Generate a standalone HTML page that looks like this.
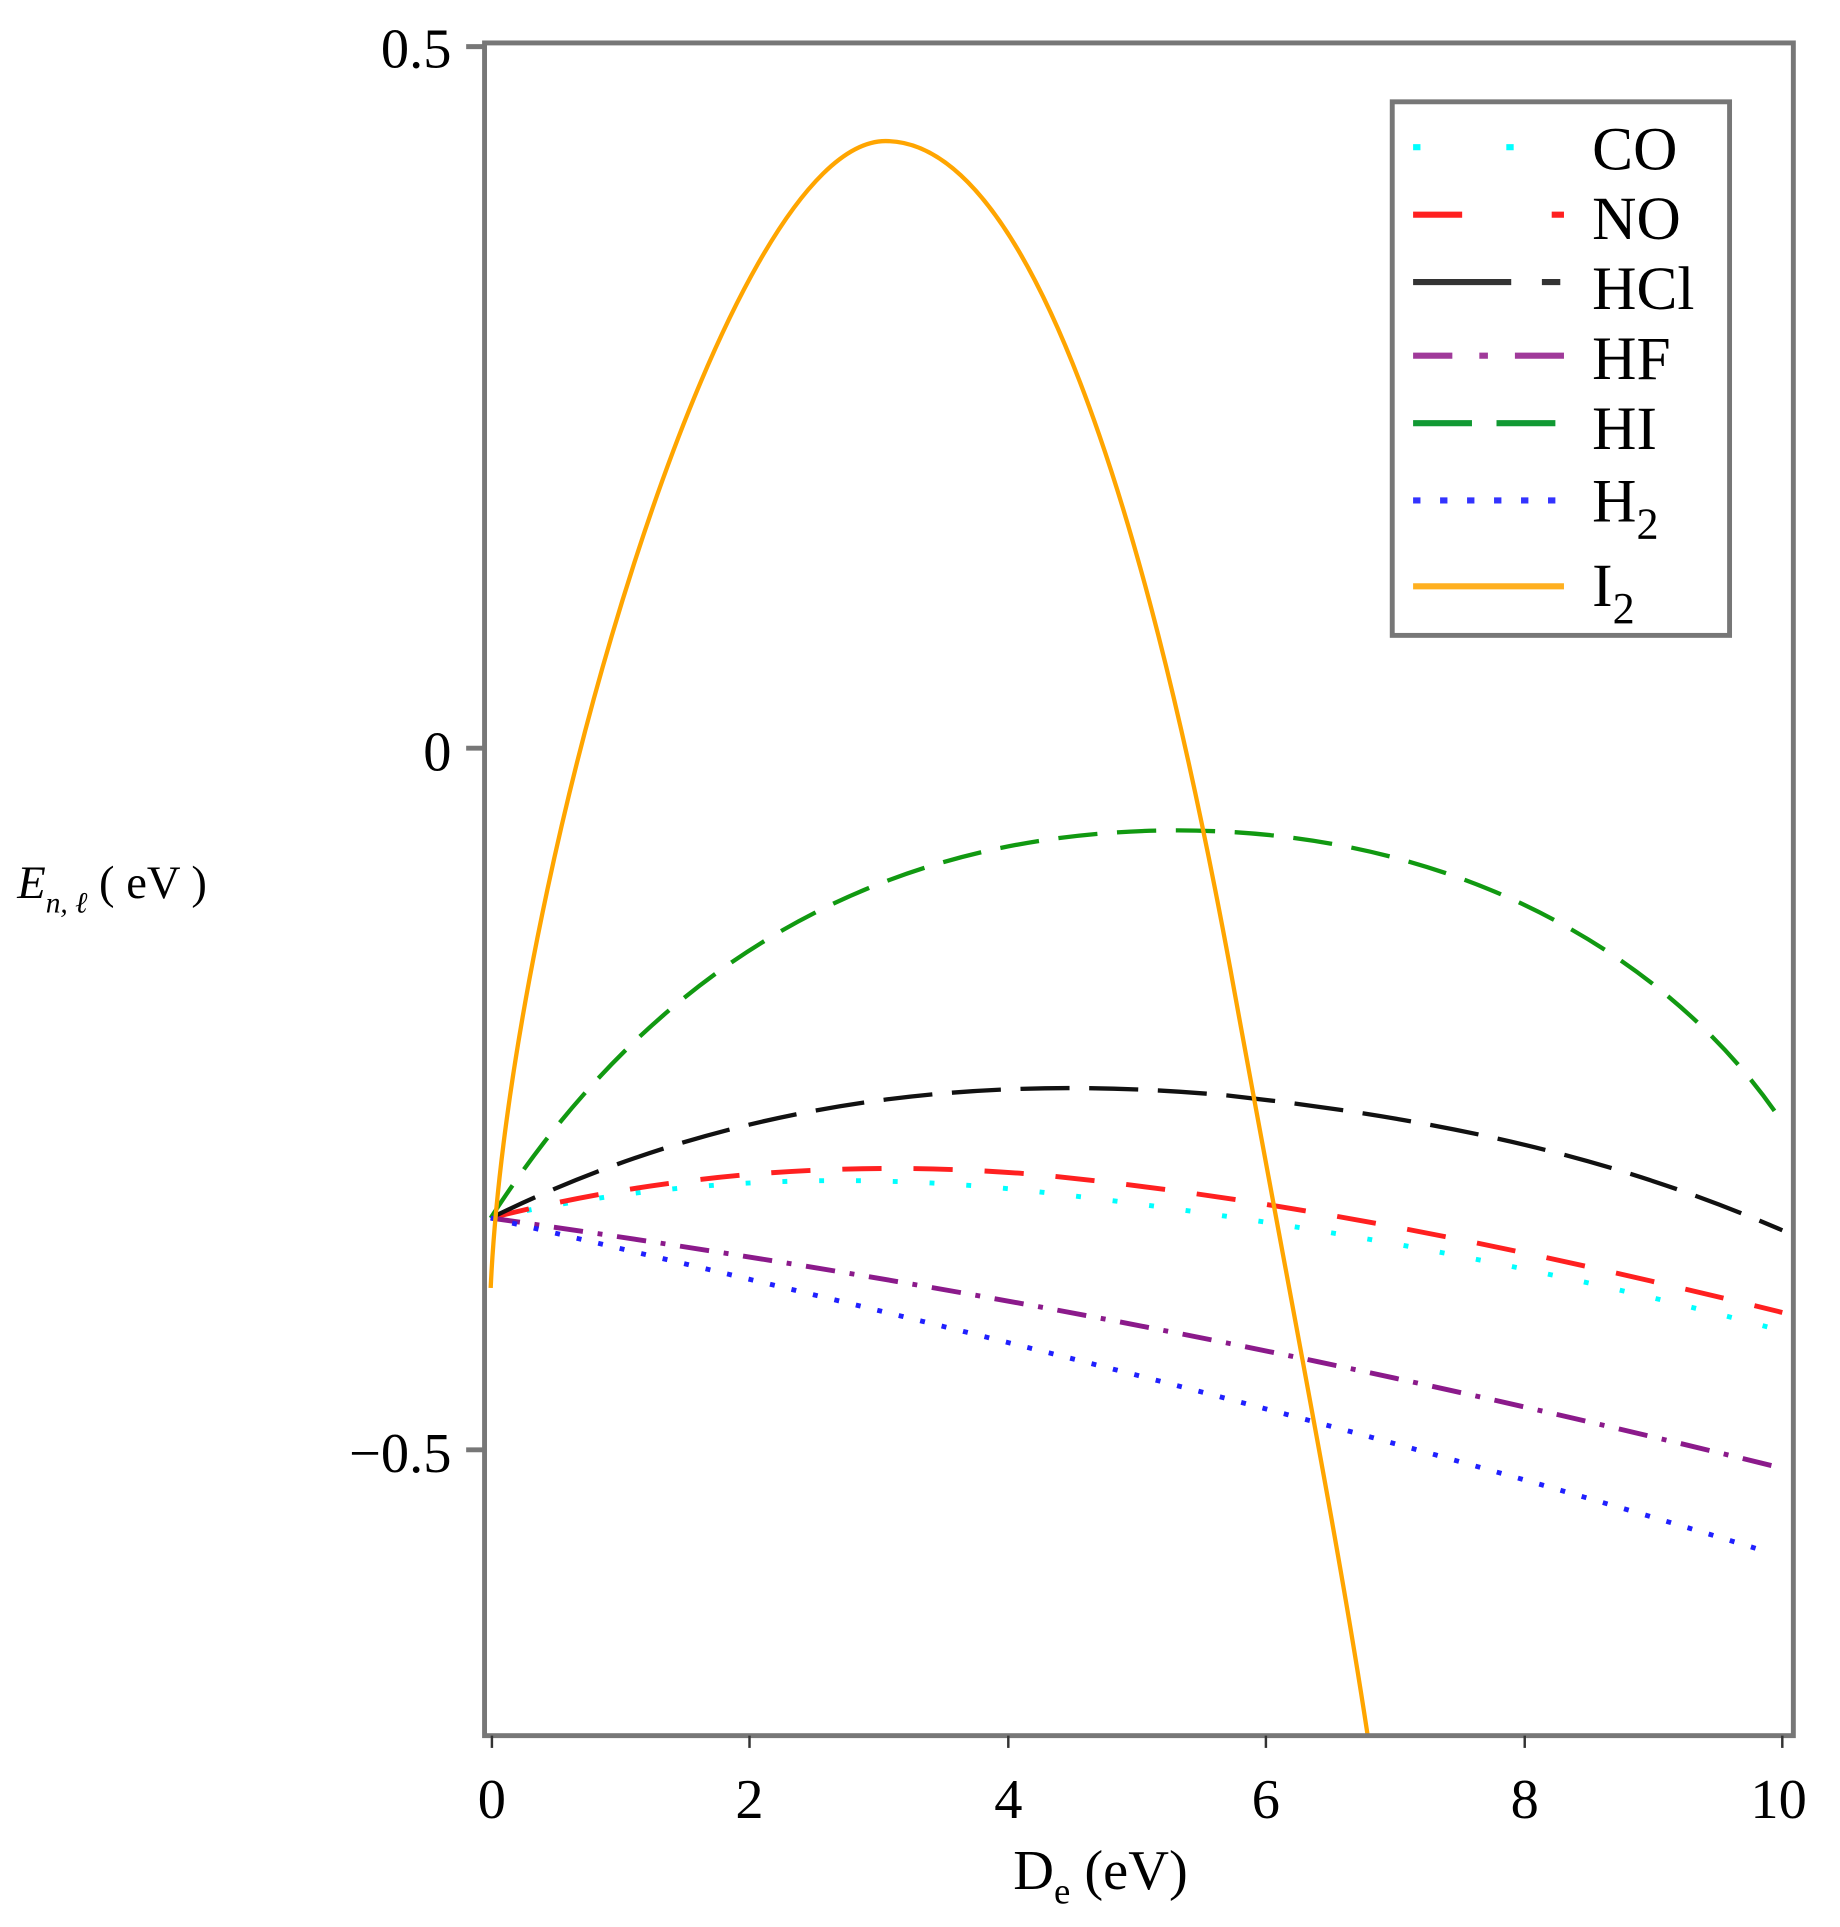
<!DOCTYPE html>
<html><head><style>html,body{margin:0;padding:0;background:#fff}svg{display:block}</style></head>
<body>
<svg width="1840" height="1927" viewBox="0 0 1500 1571" xmlns="http://www.w3.org/2000/svg" font-family="'Liberation Serif', serif">
<rect width="1500" height="1571" fill="#fff"/>
<g fill="none" stroke-linejoin="round">
<path stroke="#00ffff" stroke-width="4" stroke-dasharray="4 26" d="M400,993 C550,960 700,955 850,972 C1050,995 1250,1030 1453,1085"/>
<path stroke="#ff2020" stroke-width="4" stroke-dasharray="32 26" d="M400,993 C550,955 700,945 850,958 C1050,978 1250,1020 1453,1070"/>
<path stroke="#111" stroke-width="3.5" stroke-dasharray="40 16" d="M400,993 C600,895 800,875 1000,893 C1200,915 1330,950 1453,1003"/>
<path stroke="#8b1a8b" stroke-width="4" stroke-dasharray="24 12 4 12" d="M400,993 C800,1050 1100,1110 1453,1197"/>
<path stroke="#119911" stroke-width="3.5" stroke-dasharray="32 16" d="M400,993 C550,760 750,677 960,677 C1200,677 1370,790 1453,915"/>
<path stroke="#2020ff" stroke-width="4" stroke-dasharray="4 14" d="M400,993 C750,1075 1100,1160 1440,1265"/>
<path stroke="#ffa500" stroke-width="3.5" d="M400,1050 C415,720 590,115 722,115 C860,115 955,530 1003,790 C1052,1060 1090,1250 1115,1415"/>
</g>
<rect x="395" y="35" width="1067" height="1380" fill="none" stroke="#777" stroke-width="4"/>
<g stroke="#777" stroke-width="4"><line x1="380" y1="38" x2="395" y2="38"/><line x1="380" y1="610" x2="395" y2="610"/><line x1="380" y1="1182" x2="395" y2="1182"/></g>
<g stroke="#333" stroke-width="2"><line x1="401" y1="1415" x2="401" y2="1425"/><line x1="611" y1="1415" x2="611" y2="1425"/><line x1="822" y1="1415" x2="822" y2="1425"/><line x1="1032" y1="1415" x2="1032" y2="1425"/><line x1="1243" y1="1415" x2="1243" y2="1425"/><line x1="1453" y1="1415" x2="1453" y2="1425"/></g>
<g font-size="46" fill="#000">
<text x="368" y="55" text-anchor="end">0.5</text>
<text x="368" y="628" text-anchor="end">0</text>
<text x="368" y="1200" text-anchor="end">−0.5</text>
<g text-anchor="middle"><text x="401" y="1482">0</text><text x="611" y="1482">2</text><text x="822" y="1482">4</text><text x="1032" y="1482">6</text><text x="1243" y="1482">8</text><text x="1450" y="1482">10</text></g>
<text x="826" y="1540">D<tspan font-size="30" dy="12">e</tspan><tspan dy="-12"> (eV)</tspan></text>
</g>
<text x="14" y="732" font-size="38" fill="#000"><tspan font-style="italic">E</tspan><tspan font-size="24" dy="12" font-style="italic">n, ℓ</tspan><tspan dy="-12"> ( eV )</tspan></text>
<rect x="1135" y="83" width="275" height="435" fill="#fff" stroke="#777" stroke-width="4"/>
<g stroke-width="5" fill="none">
<line x1="1152" y1="120" x2="1275" y2="120" stroke="#00ffff" stroke-dasharray="6 70"/>
<line x1="1152" y1="175" x2="1275" y2="175" stroke="#ff2020" stroke-dasharray="40 73 10"/>
<line x1="1152" y1="230" x2="1275" y2="230" stroke="#333" stroke-dasharray="80 25 15"/>
<line x1="1152" y1="290" x2="1275" y2="290" stroke="#a03a9a" stroke-dasharray="32 22 7 22 45"/>
<line x1="1152" y1="345" x2="1275" y2="345" stroke="#119933" stroke-dasharray="48 20"/>
<line x1="1152" y1="408" x2="1275" y2="408" stroke="#3333ff" stroke-dasharray="6 16"/>
<line x1="1152" y1="478" x2="1275" y2="478" stroke="#ffb020"/>
</g>
<g font-size="50" fill="#000">
<text x="1298" y="138">CO</text>
<text x="1298" y="195">NO</text>
<text x="1298" y="252">HCl</text>
<text x="1298" y="309">HF</text>
<text x="1298" y="366">HI</text>
<text x="1298" y="425">H<tspan font-size="36" dy="14">2</tspan></text>
<text x="1298" y="494">I<tspan font-size="36" dy="14">2</tspan></text>
</g>
</svg>
</body></html>
